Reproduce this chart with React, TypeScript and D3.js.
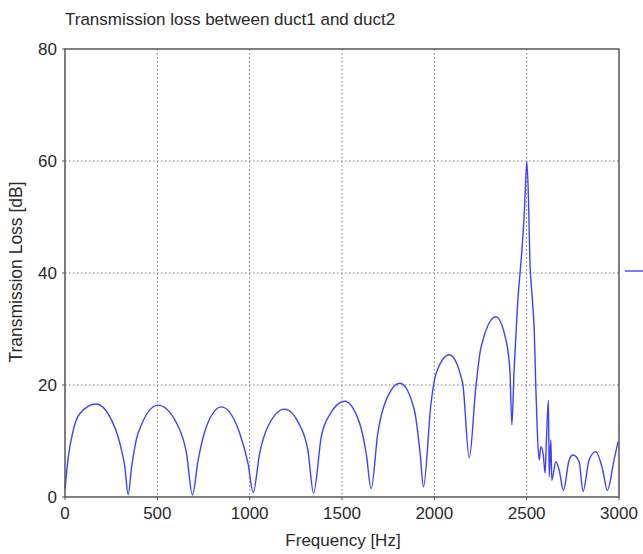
import * as d3 from "d3";

const freq = [
  0, 18, 45, 81, 168, 243, 297, 324, 342, 361, 396, 504, 604, 658, 690, 721,
  766, 847, 946, 991, 1019, 1054, 1099, 1189, 1270, 1315, 1346, 1388, 1432,
  1514, 1595, 1631, 1658, 1694, 1739, 1815, 1892, 1923, 1941, 1982, 2009,
  2081, 2153, 2189, 2225, 2252, 2333, 2388, 2409, 2420, 2432, 2450, 2474,
  2486, 2495, 2501, 2510, 2517, 2531, 2541, 2550, 2558, 2568, 2577, 2589,
  2600, 2607, 2618, 2622, 2631, 2636, 2658, 2676, 2699, 2730, 2751, 2784,
  2805, 2838, 2874, 2910, 2937, 2973, 2995,
];
const loss = [
  1.5, 7.2, 12, 14.9, 16.6, 14.3, 9.6, 5.4, 0.4, 5.4, 11.4, 16.4, 13.2, 7.8,
  0.4, 6.6, 12.6, 16.1, 11.4, 6, 0.8, 7.8, 12.6, 15.7, 12.9, 8.4, 0.7, 10.8,
  14.6, 17.1, 13.2, 7.8, 1.5, 11.4, 17.3, 20.3, 15.5, 7.8, 1.8, 16.7, 22,
  25.4, 20.4, 7, 19.7, 26.6, 32.2, 28, 22.7, 12.9, 22.7, 34, 44, 50, 56.6,
  59.9, 53, 42.9, 35.2, 29.8, 19.1, 11.4, 6.6, 9, 7.8, 4.3, 10.2, 17.3, 3.6,
  10.2, 3, 6.3, 4.8, 1.2, 6.6, 7.5, 6.3, 1, 6.6, 8.1, 5.1, 1.2, 6.6, 9.9,
];
const xTicks = [0, 500, 1000, 1500, 2000, 2500, 3000];
const yTicks = [0, 20, 40, 60, 80];

const title = "Transmission loss between duct1 and duct2";
const xTitle = "Frequency [Hz]";
const yTitle = "Transmission Loss [dB]";

const App = () => {
  const width = 643,
    height = 554,
    left = 65,
    right = 619,
    top = 49,
    bottom = 497;

  const x = d3.scaleLinear([0, 3000], [left, right]);
  const y = d3.scaleLinear([0, 80], [bottom, top]);
  const line = d3
    .line<number>((d, i) => x(freq[i]), (d) => y(d))
    .curve(d3.curveMonotoneX);

  const font = "'Liberation Sans', Arial, sans-serif";

  return (
    <svg
      width={width}
      height={height}
      style={{ position: "absolute", left: 0, top: 0, background: "#fff" }}
      fontFamily={font}
    >
      <text x={left} y={25} fontSize={17} fill="#2a2a2a">
        {title}
      </text>
      {/* grid */}
      <g stroke="#777" strokeWidth={1} strokeDasharray="1.5,2.5">
        {xTicks.slice(1, -1).map((t) => (
          <line key={t} x1={x(t)} x2={x(t)} y1={top} y2={bottom} />
        ))}
        {yTicks.slice(1, -1).map((t) => (
          <line key={t} x1={left} x2={right} y1={y(t)} y2={y(t)} />
        ))}
      </g>
      <path
        d={line(loss) ?? ""}
        fill="none"
        stroke="#4040ff"
        strokeWidth={1.4}
      />
      <rect
        x={left}
        y={top}
        width={right - left}
        height={bottom - top}
        fill="none"
        stroke="#555"
        strokeWidth={1.5}
      />
      {/* ticks and labels */}
      <g fontSize={17} fill="#2a2a2a">
        {xTicks.map((t) => (
          <g key={t}>
            <line x1={x(t)} x2={x(t)} y1={bottom} y2={bottom + 3} stroke="#555" />
            <text x={x(t)} y={519} textAnchor="middle">
              {t}
            </text>
          </g>
        ))}
        {yTicks.map((t) => (
          <g key={t}>
            <line x1={left - 3} x2={left} y1={y(t)} y2={y(t)} stroke="#555" />
            <text x={57} y={y(t) + 6} textAnchor="end">
              {t}
            </text>
          </g>
        ))}
        <text x={343} y={546} textAnchor="middle">
          {xTitle}
        </text>
        <text
          transform={`translate(22, 272) rotate(-90)`}
          textAnchor="middle"
          fontSize={17.5}
        >
          {yTitle}
        </text>
      </g>
      <line x1={625} x2={643} y1={271} y2={271} stroke="#4040ff" strokeWidth={1.4} />
    </svg>
  );
};

export default App;
